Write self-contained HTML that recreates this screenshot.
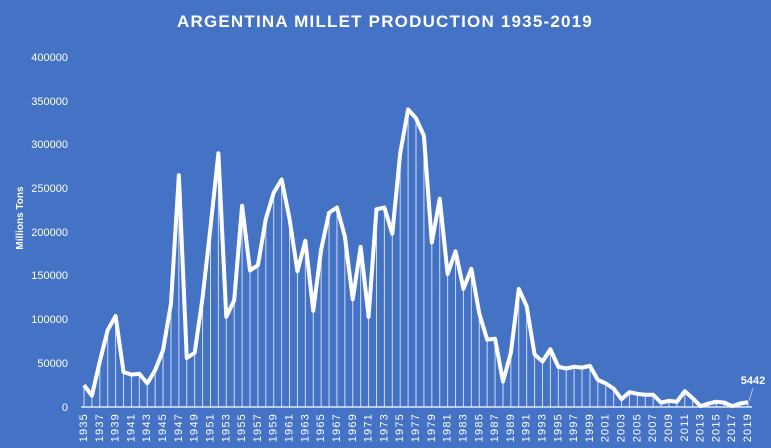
<!DOCTYPE html>
<html><head><meta charset="utf-8"><style>
html,body{margin:0;padding:0;background:#4472C4;}
svg{display:block;font-family:"Liberation Sans",sans-serif;}
</style></head><body>
<svg width="771" height="448" viewBox="0 0 771 448">
<rect width="771" height="448" fill="#4472C4"/>
<text x="385" y="27" text-anchor="middle" fill="#fff" font-size="17" font-weight="bold" letter-spacing="1.2">ARGENTINA MILLET PRODUCTION 1935-2019</text>
<g fill="#fff" font-size="11" text-anchor="end">
<text x="68" y="61">400000</text><text x="68" y="105">350000</text><text x="68" y="148">300000</text><text x="68" y="192">250000</text><text x="68" y="236">200000</text><text x="68" y="279">150000</text><text x="68" y="323">100000</text><text x="68" y="367">50000</text><text x="68" y="411">0</text>
</g>
<text transform="translate(23,218) rotate(-90)" text-anchor="middle" fill="#fff" font-size="10" font-weight="bold">Millions Tons</text>
<line x1="81" y1="407" x2="752" y2="407" stroke="#fff" stroke-width="1.3"/>
<g transform="translate(84,407) scale(7.905,-0.875)">
<path fill="none" stroke="#fff" stroke-opacity="0.75" stroke-width="1" vector-effect="non-scaling-stroke" d="M0 0V25M1 0V13M2 0V52M3 0V88M4 0V104M5 0V40M6 0V37M7 0V38M8 0V27M9 0V42M10 0V65M11 0V118M12 0V265M13 0V56M14 0V62M15 0V125M16 0V205M17 0V290M18 0V103M19 0V122M20 0V230M21 0V156M22 0V162M23 0V215M24 0V245M25 0V260M26 0V215M27 0V155M28 0V190M29 0V110M30 0V180M31 0V222M32 0V228M33 0V195M34 0V123M35 0V183M36 0V103M37 0V226M38 0V228M39 0V198M40 0V290M41 0V340M42 0V330M43 0V310M44 0V188M45 0V238M46 0V152M47 0V178M48 0V135M49 0V158M50 0V107M51 0V77M52 0V78M53 0V29M54 0V62M55 0V135M56 0V115M57 0V60M58 0V52M59 0V66M60 0V46M61 0V44M62 0V46M63 0V45M64 0V47M65 0V31M66 0V27M67 0V21M68 0V9M69 0V17M70 0V15M71 0V14M72 0V14M73 0V5M74 0V7M75 0V6M76 0V18M77 0V10M78 0V1M79 0V4M80 0V6M81 0V5M82 0V1M83 0V4M84 0V5.4"/>
<polyline fill="none" stroke="#fff" stroke-width="4" stroke-linejoin="round" vector-effect="non-scaling-stroke" points="0,25 1,13 2,52 3,88 4,104 5,40 6,37 7,38 8,27 9,42 10,65 11,118 12,265 13,56 14,62 15,125 16,205 17,290 18,103 19,122 20,230 21,156 22,162 23,215 24,245 25,260 26,215 27,155 28,190 29,110 30,180 31,222 32,228 33,195 34,123 35,183 36,103 37,226 38,228 39,198 40,290 41,340 42,330 43,310 44,188 45,238 46,152 47,178 48,135 49,158 50,107 51,77 52,78 53,29 54,62 55,135 56,115 57,60 58,52 59,66 60,46 61,44 62,46 63,45 64,47 65,31 66,27 67,21 68,9 69,17 70,15 71,14 72,14 73,5 74,7 75,6 76,18 77,10 78,1 79,4 80,6 81,5 82,1 83,4 84,5.4"/>
</g>
<line x1="749" y1="401" x2="753" y2="388" stroke="#fff" stroke-opacity="0.6" stroke-width="1"/>
<text x="753" y="384" text-anchor="middle" fill="#fff" font-size="11" font-weight="bold">5442</text>
<g fill="#fff" font-size="11" letter-spacing="1.2" dominant-baseline="central" text-anchor="end">
<text transform="translate(84,413) rotate(-90)">1935</text>
<text transform="translate(99.81,413) rotate(-90)">1937</text>
<text transform="translate(115.62,413) rotate(-90)">1939</text>
<text transform="translate(131.43,413) rotate(-90)">1941</text>
<text transform="translate(147.24,413) rotate(-90)">1943</text>
<text transform="translate(163.05,413) rotate(-90)">1945</text>
<text transform="translate(178.86,413) rotate(-90)">1947</text>
<text transform="translate(194.67,413) rotate(-90)">1949</text>
<text transform="translate(210.48,413) rotate(-90)">1951</text>
<text transform="translate(226.29,413) rotate(-90)">1953</text>
<text transform="translate(242.1,413) rotate(-90)">1955</text>
<text transform="translate(257.91,413) rotate(-90)">1957</text>
<text transform="translate(273.72,413) rotate(-90)">1959</text>
<text transform="translate(289.53,413) rotate(-90)">1961</text>
<text transform="translate(305.34,413) rotate(-90)">1963</text>
<text transform="translate(321.15,413) rotate(-90)">1965</text>
<text transform="translate(336.96,413) rotate(-90)">1967</text>
<text transform="translate(352.77,413) rotate(-90)">1969</text>
<text transform="translate(368.58,413) rotate(-90)">1971</text>
<text transform="translate(384.39,413) rotate(-90)">1973</text>
<text transform="translate(400.2,413) rotate(-90)">1975</text>
<text transform="translate(416.01,413) rotate(-90)">1977</text>
<text transform="translate(431.82,413) rotate(-90)">1979</text>
<text transform="translate(447.63,413) rotate(-90)">1981</text>
<text transform="translate(463.44,413) rotate(-90)">1983</text>
<text transform="translate(479.25,413) rotate(-90)">1985</text>
<text transform="translate(495.06,413) rotate(-90)">1987</text>
<text transform="translate(510.87,413) rotate(-90)">1989</text>
<text transform="translate(526.68,413) rotate(-90)">1991</text>
<text transform="translate(542.49,413) rotate(-90)">1993</text>
<text transform="translate(558.3,413) rotate(-90)">1995</text>
<text transform="translate(574.11,413) rotate(-90)">1997</text>
<text transform="translate(589.92,413) rotate(-90)">1999</text>
<text transform="translate(605.73,413) rotate(-90)">2001</text>
<text transform="translate(621.54,413) rotate(-90)">2003</text>
<text transform="translate(637.35,413) rotate(-90)">2005</text>
<text transform="translate(653.16,413) rotate(-90)">2007</text>
<text transform="translate(668.97,413) rotate(-90)">2009</text>
<text transform="translate(684.78,413) rotate(-90)">2011</text>
<text transform="translate(700.59,413) rotate(-90)">2013</text>
<text transform="translate(716.4,413) rotate(-90)">2015</text>
<text transform="translate(732.21,413) rotate(-90)">2017</text>
<text transform="translate(748.02,413) rotate(-90)">2019</text>
</g>
</svg>
</body></html>
